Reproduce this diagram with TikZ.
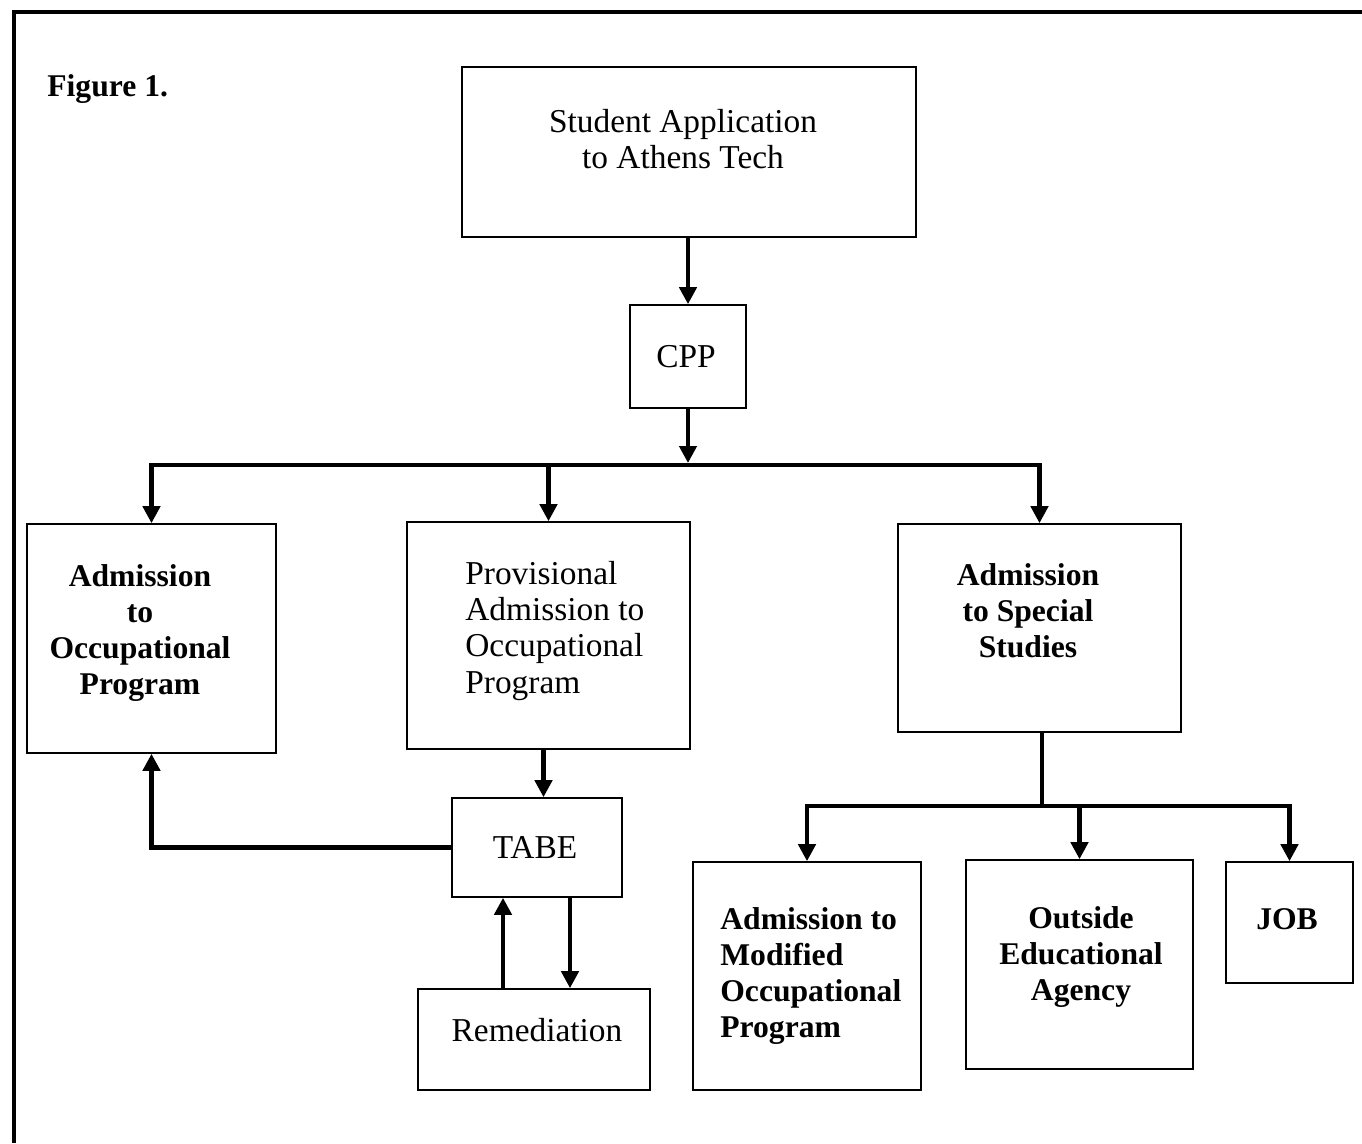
\documentclass[tikz,border=0pt]{standalone}
\usepackage{fontspec}
\setmainfont{Liberation Serif}
\usetikzlibrary{arrows.meta}

\tikzset{
  box/.style 2 args={draw, line width=0.9pt, inner sep=0pt,
    minimum width=#1*0.02cm, minimum height=#2*0.02cm},
  lbl/.style={align=center, inner sep=0pt, font=\fontsize{19}{20.5}\selectfont},
  blbl/.style={align=center, inner sep=0pt, font=\fontsize{18}{20.5}\selectfont\bfseries},
  flow/.style={line width=2.6pt, -{Triangle[length=0.34cm,width=0.34cm]}},
  rail/.style={line width=2.4pt},
}

\begin{document}
\begin{tikzpicture}[x=0.02cm, y=-0.02cm]
    \useasboundingbox (0,0) rectangle (1362,1143);
    \draw[line width=2.2pt] (14,1143) -- (14,12) -- (1362,12);

    \node[blbl, anchor=west] (fig) at (47,89) {Figure 1.};

    % boxes
    \node[box={454}{170}] (app) at (689,152) {};
    \node[box={116}{103}] (cpp) at (688,356.5) {};
    \node[box={249}{229}] (admit) at (151.5,638.5) {};
    \node[box={283}{227}] (prov) at (548.5,635.5) {};
    \node[box={283}{208}] (special) at (1039.5,628) {};
    \node[box={170}{99}] (tabe) at (537,847.5) {};
    \node[box={232}{101}] (remed) at (534,1039.5) {};
    \node[box={228}{228}] (modif) at (807,976) {};
    \node[box={227}{209}] (outside) at (1079.5,964.5) {};
    \node[box={127}{121}] (job) at (1289.5,922.5) {};

    % texts
    \node[lbl] (appT) at (683,139) {Student Application\\to Athens Tech};
    \node[lbl] (cppT) at (686,357) {CPP};
    \node[blbl] (admitT) at (140,633) {Admission\\to\\Occupational\\Program};
    \node[lbl, align=left, anchor=west] (provT) at (465,631) {Provisional\\Admission to\\Occupational\\Program};
    \node[blbl] (specialT) at (1028,611) {Admission\\to Special\\Studies};
    \node[lbl] (tabeT) at (535,848) {TABE};
    \node[lbl] (remedT) at (537,1030) {Remediation};
    \node[blbl, align=left, anchor=west] (modifT) at (720,976) {Admission to\\Modified\\Occupational\\Program};
    \node[blbl] (outsideT) at (1081,957) {Outside\\Educational\\Agency};
    \node[blbl] (jobT) at (1287,919) {JOB};

    % connectors
    \coordinate (busA) at (688,465);
    \coordinate (busB) at (1042,806);

    \draw[flow] (cpp.north |- app.south) -- (cpp.north);
    \draw[flow] (cpp.south) -- ([yshift=0.04cm]busA);
    \draw[flow] (busA) -| (admit.north);
    \draw[flow] (busA) -| (special.north);
    \draw[flow] (prov.north |- busA) -- (prov.north);

    \draw[flow] ([xshift=-0.1cm]prov.south) -- ([xshift=-0.1cm]prov.south |- tabe.north);
    \draw[flow] (tabe.west) -| (admit.south);
    \draw[flow] ([xshift=-0.62cm]remed.north) -- ([xshift=-0.62cm]remed.north |- tabe.south);
    \draw[flow] ([xshift=0.72cm]remed.north |- tabe.south) -- ([xshift=0.72cm]remed.north);

    \draw[rail] (special.south -| busB) -- (busB);
    \draw[flow] (busB) -| (modif.north);
    \draw[flow] (busB) -| (job.north);
    \draw[flow] (outside.north |- busB) -- (outside.north);
\end{tikzpicture}
\end{document}
